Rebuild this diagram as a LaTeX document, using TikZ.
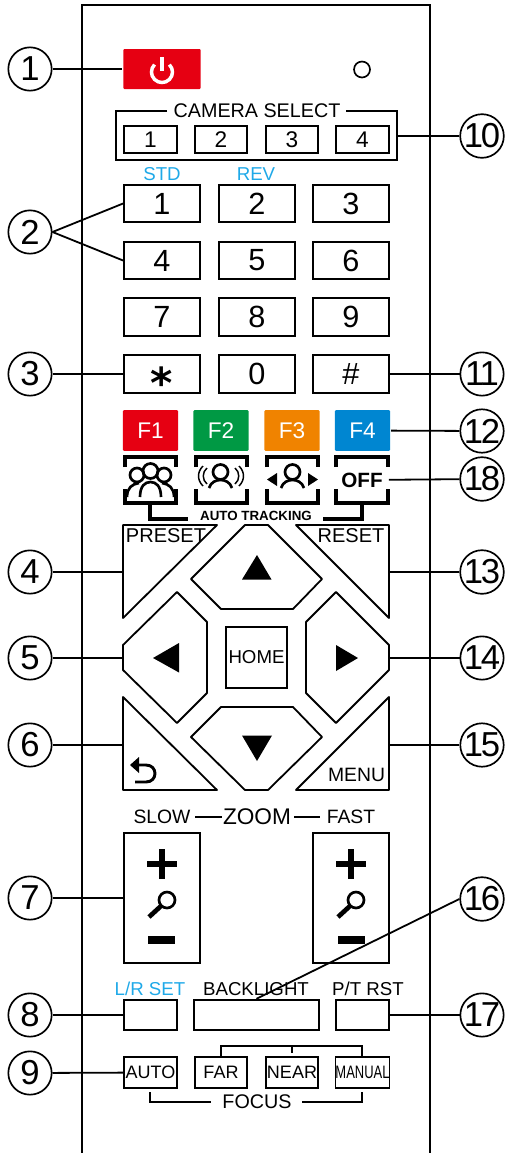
\documentclass[tikz,border=0pt]{standalone}
\usepackage{fontspec}
\setmainfont{Liberation Sans}
\newfontfamily\starfont{DejaVu Sans}
\definecolor{powerred}{HTML}{E60012}
\definecolor{fgreen}{HTML}{009944}
\definecolor{forange}{HTML}{F08300}
\definecolor{fblue}{HTML}{0086D1}
\definecolor{labelblue}{HTML}{1FA9E8}

\tikzset{every picture/.style={line width=1.35pt}}
\tikzset{
  callout/.style={circle,draw,inner sep=0pt,minimum size=32.5pt,line width=1.25pt,font=\fontsize{26}{26}\selectfont},
  calloutwide/.style={callout,font=\fontsize{26}{26}\selectfont\addfontfeature{LetterSpace=-7}},
  smallkey/.style={draw,inner sep=0pt,minimum width=39.5pt,minimum height=20.5pt,font=\fontsize{17}{17}\selectfont},
  numkey/.style={draw,inner sep=0pt,minimum width=57pt,minimum height=28pt,font=\fontsize{23}{23}\selectfont},
  fkey/.style={inner sep=0pt,minimum width=41.5pt,minimum height=30.5pt,rounded corners=0.8pt,text=white,font=\fontsize{17}{17}\selectfont},
  lowkey/.style={draw,inner sep=0pt,minimum width=39.5pt,minimum height=23pt,font=\fontsize{13.5}{13.5}\selectfont},
  zoomkey/.style={draw,inner sep=0pt,minimum width=57pt,minimum height=97.5pt},
  caption/.style={inner sep=0pt,font=\fontsize{14}{14}\selectfont},
  bluecaption/.style={caption,text=labelblue},
  iconframe/.style={inner sep=0pt,minimum width=39pt,minimum height=34.5pt},
  bracket/.style={line width=2.5pt},
  lead/.style={line width=1.35pt},
  padkey/.style={line width=1.35pt,line join=round}
}

\begin{document}
\begin{tikzpicture}[x=0.75pt,y=0.75pt,yscale=-1,xscale=1]
\useasboundingbox (0,0) rectangle (506,1153);

%Remote body
\draw [line width=1.5pt]  (82,1153) -- (82,5) -- (430,5) -- (430,1153) ;

%Power key and lamp
\draw (162,69) node [fill=powerred,inner sep=0pt,minimum width=58pt,minimum height=30pt,rounded corners=0.8pt] (powerkey) {};
\draw [white,line width=2.6pt]  (169.4,64.6) arc (-45:225:10.5) ;
\draw [white,line width=2.6pt]  (162,57) -- (162,71) ;
\draw (362,69.5) node [circle,draw,inner sep=0pt,minimum size=12pt,line width=1.25pt] (lamp) {};

%Camera select
\draw  (167,111) -- (116,111) -- (116,160) -- (397,160) -- (397,111) -- (346,111) ;
\coordinate (camedge) at (397,136);
\draw (257,111) node [caption,font=\fontsize{14.8}{14.8}\selectfont] (camcaption) {CAMERA SELECT};
\draw (150.5,139.5) node [smallkey] (cam1) {1};
\draw (221,139.5) node [smallkey] (cam2) {2};
\draw (292,139.5) node [smallkey] (cam3) {3};
\draw (362.5,139.5) node [smallkey] (cam4) {4};

%Number keys
\draw (162,174) node [bluecaption] (stdlabel) {STD};
\draw (256,174) node [bluecaption] (revlabel) {REV};
\draw (162,203.5) node [numkey] (num1) {1};
\draw (257,203.5) node [numkey] (num2) {2};
\draw (351,203.5) node [numkey] (num3) {3};
\draw (162,260.5) node [numkey] (num4) {4};
\draw (257,260.5) node [numkey] (num5) {5};
\draw (351,260.5) node [numkey] (num6) {6};
\draw (162,317) node [numkey] (num7) {7};
\draw (257,317) node [numkey] (num8) {8};
\draw (351,317) node [numkey] (num9) {9};
\draw (162,374) node [numkey] (starkey) {};
\draw (162,398) node [anchor=base,inner sep=0pt,font=\starfont\bfseries\fontsize{32}{32}\selectfont] (starmark) {*};
\draw (257,374) node [numkey] (num0) {0};
\draw (351,374) node [numkey] (hashkey) {\#};

%F keys
\draw (150.5,430.5) node [fkey,fill=powerred] (f1) {F1};
\draw (221,430.5) node [fkey,fill=fgreen] (f2) {F2};
\draw (292,430.5) node [fkey,fill=forange] (f3) {F3};
\draw (362.5,430.5) node [fkey,fill=fblue] (f4) {F4};

%Tracking icons
\draw (150.5,480) node [iconframe] (groupicon) {};
\draw (221.5,480) node [iconframe] (wideicon) {};
\draw (292.5,480) node [iconframe] (panicon) {};
\draw (362,480) node [iconframe,font=\bfseries\fontsize{15.5}{15.5}\selectfont] (officon) {OFF};
\draw [bracket]  (125,467) -- (125,457) -- (176,457) -- (176,467) ;
\draw [bracket]  (125,489) -- (125,503) -- (176,503) -- (176,489) ;
\draw [bracket]  (196,467) -- (196,457) -- (247,457) -- (247,467) ;
\draw [bracket]  (196,489) -- (196,503) -- (247,503) -- (247,489) ;
\draw [bracket]  (267,467) -- (267,457) -- (318,457) -- (318,467) ;
\draw [bracket]  (267,489) -- (267,503) -- (318,503) -- (318,489) ;
\draw [bracket]  (336,467) -- (336,457) -- (388,457) -- (388,467) ;
\draw [bracket]  (336,489) -- (336,503) -- (388,503) -- (388,489) ;
\draw [bracket]  (150,503) -- (150,519) -- (188,519) ;
\draw [bracket]  (362,503) -- (362,519) -- (323,519) ;
\draw (256,516) node [inner sep=0pt,font=\bfseries\fontsize{10}{10}\selectfont] (tracklabel) {AUTO TRACKING};
%Group of people
\draw [line width=2pt]  (137,475) circle (7) ;
\draw [line width=2pt]  (150.5,471) circle (7.5) ;
\draw [line width=2pt]  (164,475) circle (7) ;
\draw [line width=2pt]  (140,497) .. controls (140,486) and (145,482) .. (150.5,482) .. controls (156,482) and (161,486) .. (161,497) ;
\draw [line width=2pt]  (127,497) .. controls (127,488) and (132,484) .. (139,483) ;
\draw [line width=2pt]  (174,497) .. controls (174,488) and (169,484) .. (162,483) ;
%Person with waves
\draw [line width=2pt]  (220.5,472) circle (7.5) ;
\draw [line width=2pt]  (209,488) .. controls (211,482) and (216,480) .. (220.5,480) .. controls (225,480) and (230,482) .. (232,488) ;
\draw [line width=1.1pt]  (207,468) .. controls (202,472) and (202,480) .. (207,484) ;
\draw [line width=1.1pt]  (203,466) .. controls (197,472) and (197,480) .. (203,486) ;
\draw [line width=1.1pt]  (235,468) .. controls (240,472) and (240,480) .. (235,484) ;
\draw [line width=1.1pt]  (239,466) .. controls (245,472) and (245,480) .. (239,486) ;
%Person with side arrows
\draw [line width=2pt]  (292.5,472) circle (7.5) ;
\draw [line width=2pt]  (281,488) .. controls (283,482) and (288,480) .. (292.5,480) .. controls (297,480) and (302,482) .. (304,488) ;
\fill  (267,479.5) -- (277,473) -- (277,486) -- cycle ;
\fill  (318,479.5) -- (308,473) -- (308,486) -- cycle ;

%Direction pad
\draw [padkey]  (123,525) -- (217,525) -- (123,618) -- cycle ;
\draw [padkey]  (389,525) -- (296,525) -- (389,618) -- cycle ;
\draw [padkey]  (245,525) -- (268,525) -- (322,579) -- (293,609) -- (221,609) -- (191,579) -- cycle ;
\draw [padkey]  (177,592) -- (207,622) -- (207,693) -- (177,723) -- (123,670) -- (123,645) -- cycle ;
\draw [padkey]  (336,592) -- (306,622) -- (306,693) -- (336,723) -- (389,670) -- (389,645) -- cycle ;
\draw [padkey]  (221,707) -- (293,707) -- (322,737) -- (268,790) -- (245,790) -- (191,737) -- cycle ;
\draw [padkey]  (123,697) -- (123,790) -- (217,790) -- cycle ;
\draw [padkey]  (389,697) -- (389,790) -- (296,790) -- cycle ;
\coordinate (presetpt) at (123,572);
\coordinate (leftpt) at (123,658);
\coordinate (backpt) at (123,745);
\coordinate (resetpt) at (389,572);
\coordinate (rightpt) at (389,658);
\coordinate (menupt) at (389,745);
\draw (166,536) node [caption,font=\fontsize{15}{15}\selectfont] (presetlabel) {PRESET};
\draw (351,536) node [caption,font=\fontsize{15}{15}\selectfont] (resetlabel) {RESET};
\draw (356.5,775) node [caption,font=\fontsize{14.5}{14.5}\selectfont] (menulabel) {MENU};
\draw (256.5,657.5) node [draw,inner sep=0pt,minimum width=45.5pt,minimum height=45.5pt,font=\fontsize{14}{14}\selectfont] (homekey) {HOME};
\fill  (257,555) -- (271.5,579.5) -- (242,579.5) -- cycle ;
\fill  (153,658) -- (179,643) -- (179,672.5) -- cycle ;
\fill  (358,658) -- (336,645) -- (336,671) -- cycle ;
\fill  (257,761) -- (272,735.5) -- (242,735.5) -- cycle ;
%Back arrow
\draw [line width=2.2pt]  (137,765) -- (146,765) .. controls (158,765) and (158,782) .. (146,782) -- (135,782) ;
\fill  (130,765) -- (139,757) -- (139,773) -- cycle ;

%Zoom keys
\draw (162,817) node [caption,font=\fontsize{14.5}{14.5}\selectfont] (slowlabel) {SLOW};
\draw (257,817) node [caption,font=\fontsize{17}{17}\selectfont] (zoomlabel) {ZOOM};
\draw (351,817) node [caption,font=\fontsize{14.5}{14.5}\selectfont] (fastlabel) {FAST};
\draw [line width=1.1pt]  (195,817) -- (222,817) ;
\draw [line width=1.1pt]  (294,817) -- (320,817) ;
\draw (162,898) node [zoomkey] (slowkey) {};
\draw (351,898) node [zoomkey] (fastkey) {};
\draw [line width=4.5pt]  (147,864) -- (177,864) ;
\draw [line width=4.5pt]  (162,849) -- (162,879) ;
\draw [line width=5.5pt]  (148,940) -- (175,940) ;
\draw [line width=2pt]  (167,900) circle (8) ;
\draw [line width=3.5pt]  (161,906) -- (149,917) ;
\draw [line width=4.5pt]  (336,864) -- (366,864) ;
\draw [line width=4.5pt]  (351,849) -- (351,879) ;
\draw [line width=5.5pt]  (338,940) -- (365,940) ;
\draw [line width=2pt]  (356,900) circle (8) ;
\draw [line width=3.5pt]  (350,906) -- (338,917) ;

%Lower keys
\draw (150,989) node [bluecaption] (lrlabel) {L/R SET};
\draw (256,989) node [caption] (backlabel) {BACKLIGHT};
\draw (368,989) node [caption] (ptlabel) {P/T RST};
\draw (150.5,1015) node [lowkey] (lrkey) {};
\draw (256.5,1015) node [lowkey,minimum width=93.5pt] (backkey) {};
\draw (362.5,1015) node [lowkey] (ptkey) {};
\draw (150.5,1072.5) node [lowkey] (autokey) {AUTO};
\draw (221,1072.5) node [lowkey] (farkey) {FAR};
\draw (292,1072.5) node [lowkey] (nearkey) {NEAR};
\draw (362.5,1072.5) node [lowkey,align=center] (manualkey) {\scalebox{0.72}[1]{MANUAL}};
\draw [line width=1.1pt]  (221,1057) -- (221,1046) -- (362,1046) -- (362,1057) ;
\draw [line width=1.1pt]  (292,1046) -- (292,1053) ;
\draw (257,1102) node [caption,font=\fontsize{14.8}{14.8}\selectfont] (focuslabel) {FOCUS};
\draw [line width=1.1pt]  (150,1092) -- (150,1102) -- (211,1102) ;
\draw [line width=1.1pt]  (302,1102) -- (362,1102) -- (362,1092) ;

%Callouts, left side
\draw (30,69) node [callout] (c1) {1};
\draw (30,232) node [callout] (c2) {2};
\draw (30,374) node [callout] (c3) {3};
\draw (30,572) node [callout] (c4) {4};
\draw (30,658) node [callout] (c5) {5};
\draw (30,745) node [callout] (c6) {6};
\draw (30,898) node [callout] (c7) {7};
\draw (30,1015) node [callout] (c8) {8};
\draw (30,1073) node [callout] (c9) {9};
%Callouts, right side
\draw (482,136) node [calloutwide] (c10) {10};
\draw (482,374) node [calloutwide] (c11) {11};
\draw (482,431) node [calloutwide] (c12) {12};
\draw (482,479) node [calloutwide] (c18) {18};
\draw (482,572) node [calloutwide] (c13) {13};
\draw (482,658) node [calloutwide] (c14) {14};
\draw (482,745) node [calloutwide] (c15) {15};
\draw (482,899) node [calloutwide] (c16) {16};
\draw (482,1015) node [calloutwide] (c17) {17};

%Leader lines
\draw [lead]  (c1) -- (powerkey) ;
\draw [lead]  (c2.east) -- (num1.west) ;
\draw [lead]  (c2.east) -- (num4.west) ;
\draw [lead]  (c3) -- (starkey) ;
\draw [lead]  (c4) -- (presetpt) ;
\draw [lead]  (c5) -- (leftpt) ;
\draw [lead]  (c6) -- (backpt) ;
\draw [lead]  (c7) -- (slowkey) ;
\draw [lead]  (c8) -- (lrkey) ;
\draw [lead]  (c9) -- (autokey) ;
\draw [lead]  (c10) -- (camedge) ;
\draw [lead]  (c11) -- (hashkey) ;
\draw [lead]  (c12) -- (f4) ;
\draw [lead]  (c18) -- (officon) ;
\draw [lead]  (c13) -- (resetpt) ;
\draw [lead]  (c14) -- (rightpt) ;
\draw [lead]  (c15) -- (menupt) ;
\draw [lead]  (c16.west) -- (backkey.north) ;
\draw [lead]  (c17) -- (ptkey) ;

\end{tikzpicture}
\end{document}
